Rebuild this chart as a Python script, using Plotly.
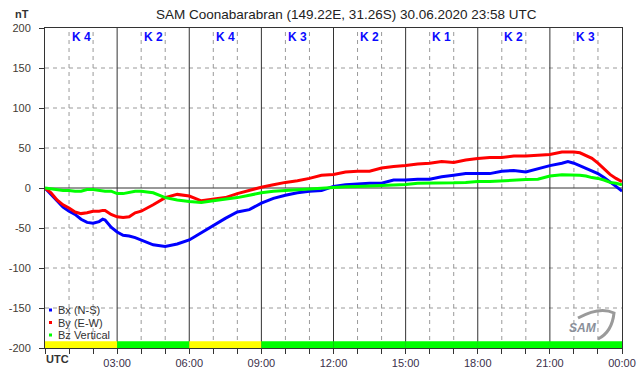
import plotly.graph_objects as go

hours = [0, 0.25, 0.5, 0.75, 1.0, 1.25, 1.5, 1.75, 2.0, 2.25, 2.4, 2.5, 2.75, 3.0, 3.25, 3.5, 3.75,
         4.0, 4.5, 5.0, 5.5, 6.0, 6.5, 7.0, 7.5, 8.0, 8.5, 9.0, 9.5, 10.0, 10.5, 11.0, 11.5,
         12.0, 12.5, 13.0, 13.5, 14.0, 14.5, 15.0, 15.5, 16.0, 16.5, 17.0, 17.5, 18.0, 18.5,
         19.0, 19.5, 20.0, 20.5, 21.0, 21.5, 21.75, 22.0, 22.25, 22.5, 22.75, 23.0, 23.25,
         23.5, 23.75, 24.0]

bx = [0, -8, -17, -24, -29, -33, -39, -43, -44, -42, -39, -40, -49, -55, -59, -60, -62,
      -65, -71, -73, -70, -65, -56, -46, -38, -30, -27, -19, -13, -9, -6, -4, -3,
      2, 4, 5, 6, 6, 10, 10, 11, 11, 14, 16, 18, 18, 18,
      21, 22, 20, 24, 28, 31, 33, 31, 28, 25, 22, 18, 13,
      8, 2, -4]

by = [0, -6, -15, -21, -25, -30, -32, -31, -29, -29, -28, -28, -33, -36, -37, -36, -31,
      -29, -21, -12, -8, -10, -16, -14, -12, -7, -3, 1, 4, 7, 9, 12, 16,
      17, 20, 21, 21, 25, 27, 28, 30, 31, 33, 32, 35, 37, 38,
      38, 40, 40, 41, 42, 45, 45, 45, 44, 41, 37, 31, 24,
      17, 12, 8]

bz = [0, -1, -2, -3, -3, -4, -4, -2, -2, -3, -4, -4, -4, -7, -7, -5.5, -4,
      -4, -6, -12, -15, -17, -18, -16, -14, -12, -9, -6, -4, -3, -2, -1, 0,
      1, 1.5, 2, 2.5, 3, 4, 4.5, 6, 6, 6, 6.5, 7, 8, 8,
      9, 10, 10.5, 11, 15, 16.6, 16.6, 16.6, 16, 15, 13, 12, 10,
      7, 6, 4]

k_index = [4, 2, 4, 3, 2, 1, 2, 3]
k_labels = ["K 4", "K 2", "K 4", "K 3", "K 2", "K 1", "K 2", "K 3"]
x_tick_hours = list(range(0, 25))
x_tick_labels = ["" if h % 3 else ("" if h == 0 else "%02d:00" % (h % 24)) for h in x_tick_hours]
y_ticks = [200, 150, 100, 50, 0, -50, -100, -150, -200]
series_names = ["Bx (N-S)", "By (E-W)", "Bz Vertical"]
series_colors = ["#0000ff", "#ff0000", "#00ff00"]

FONT = "Liberation Sans, Arial, sans-serif"
L, R, T, B = 45, 20, 28, 28
W, H = 642, 376
PW, PH = W - L - R, H - T - B


def px(xp):
    return (xp - L) / PW


def py(yp):
    return (H - B - yp) / PH


fig = go.Figure()
for name, vals, col in zip(series_names, [bx, by, bz], series_colors):
    fig.add_trace(go.Scatter(x=hours, y=vals, mode="lines", name=name,
                             line=dict(color=col, width=3), showlegend=False,
                             hoverinfo="skip"))

shapes = []
grid_gray = "#9a9a9a"
dark = "#333333"
for h in range(1, 24):
    if h % 3:
        shapes.append(dict(type="line", xref="x", yref="y", x0=h, x1=h, y0=-200, y1=200,
                           line=dict(color=grid_gray, width=1, dash="4px,4px"), layer="below"))
for v in [150, 100, 50, -50, -100, -150]:
    shapes.append(dict(type="line", xref="x", yref="y", x0=0, x1=24, y0=v, y1=v,
                       line=dict(color=grid_gray, width=1, dash="4px,4px"), layer="below"))
for h in range(3, 24, 3):
    shapes.append(dict(type="line", xref="x", yref="y", x0=h, x1=h, y0=-200, y1=200,
                       line=dict(color=dark, width=1), layer="below"))
shapes.append(dict(type="line", xref="x", yref="y", x0=0, x1=24, y0=0, y1=0,
                   line=dict(color=dark, width=1), layer="below"))

# K-index bar
for i, k in enumerate(k_index):
    col = "#ffff00" if k >= 4 else "#00ff00"
    shapes.append(dict(type="rect", xref="x", yref="y", x0=3 * i, x1=3 * i + 3,
                       y0=-200, y1=-191.5, fillcolor=col, line=dict(width=0), layer="above"))

annotations = []
for i, lab in enumerate(k_labels):
    annotations.append(dict(x=3 * i + 1.5, y=py(37), xref="x", yref="paper", text="<b>%s</b>" % lab,
                            showarrow=False, font=dict(family=FONT, size=12, color="#0a0aff"),
                            xanchor="center", yanchor="middle"))

annotations.append(dict(x=px(346), y=py(14), xref="paper", yref="paper",
                        text="SAM Coonabarabran (149.22E, 31.26S) 30.06.2020 23:58 UTC",
                        showarrow=False, font=dict(family=FONT, size=13.5, color="#222222"),
                        xanchor="center", yanchor="middle"))
annotations.append(dict(x=px(22), y=py(14), xref="paper", yref="paper", text="<b>nT</b>",
                        showarrow=False, font=dict(family=FONT, size=11, color="#333333"),
                        xanchor="center", yanchor="middle"))
annotations.append(dict(x=px(44), y=py(359), xref="paper", yref="paper", text="<b>UTC</b>",
                        showarrow=False, font=dict(family=FONT, size=11, color="#333333"),
                        xanchor="left", yanchor="middle"))

# legend
for i, (name, col) in enumerate(zip(series_names, series_colors)):
    yc = 310 + i * 12.5
    annotations.append(dict(x=px(56), y=py(yc), xref="paper", yref="paper", text=name,
                            showarrow=False, font=dict(family=FONT, size=11, color="#333333"),
                            xanchor="left", yanchor="middle"))
    shapes.append(dict(type="rect", xref="paper", yref="paper", x0=px(49), x1=px(52),
                       y0=py(yc + 1.5), y1=py(yc - 1.5), fillcolor=col, line=dict(width=0)))

# SAM logo
annotations.append(dict(x=px(583), y=py(328), xref="paper", yref="paper", text="<i><b>SAM</b></i>",
                        showarrow=False, font=dict(family=FONT, size=12, color="#8a8f99"),
                        xanchor="center", yanchor="middle"))


def P(xp, yp):
    return "%f,%f" % (px(xp), py(yp))


shapes.append(dict(type="path", xref="paper", yref="paper",
                   path="M %s Q %s %s Q %s %s" % (P(578, 318), P(600, 306), P(614, 313),
                                                    P(612, 332), P(598, 339)),
                   line=dict(color="#9a9a9a", width=3)))

fig.update_layout(
    width=W, height=H,
    margin=dict(l=L, r=R, t=T, b=B, pad=0, autoexpand=False),
    paper_bgcolor="white", plot_bgcolor="white",
    shapes=shapes, annotations=annotations,
    showlegend=False,
    xaxis=dict(range=[0, 24], tickvals=x_tick_hours, ticktext=x_tick_labels,
               ticks="outside", ticklen=5, tickcolor=dark, showgrid=False, zeroline=False,
               showline=True, linecolor=dark, linewidth=1, mirror=True, automargin=False,
               tickfont=dict(family=FONT, size=11, color="#3a2f4a"), fixedrange=True),
    yaxis=dict(range=[-200, 200], tickvals=y_ticks, ticktext=[str(v) for v in y_ticks],
               ticks="outside", ticklen=5, tickcolor=dark, showgrid=False, zeroline=False,
               showline=True, linecolor=dark, linewidth=1, mirror=True, automargin=False,
               ticklabelstandoff=6,
               tickfont=dict(family=FONT, size=11, color="#3f3a33"), fixedrange=True),
)

fig.write_html("out.html", config={"displayModeBar": False},
               post_script="document.body.style.margin='0';document.body.style.padding='0';")
